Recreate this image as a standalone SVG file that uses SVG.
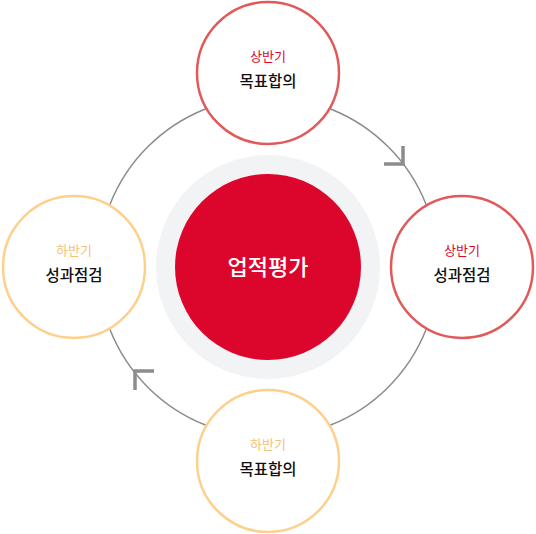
<svg xmlns="http://www.w3.org/2000/svg" width="536" height="534" viewBox="0 0 536 534">
<style>
.ring{fill:none;stroke:#8c8c8c;stroke-width:1.5}
.arrow{fill:none;stroke:#8c8c8c;stroke-width:3.5}
.node{fill:#fff;stroke-width:2.5}
.red{stroke:#e05a5a}
.yel{stroke:#fdd08c}
.sub{font-family:"Noto Sans CJK KR","Noto Sans",sans-serif;font-size:13px;text-anchor:middle}
.main{font-family:"Noto Sans CJK KR","Noto Sans",sans-serif;font-size:15.5px;font-weight:500;text-anchor:middle;fill:#111}
</style>
<g id="connectors">
<circle class="ring" cx="268" cy="267" r="170"/>
<path class="arrow" d="M403 146 V164 H384"/>
<path class="arrow" d="M135 390 V371 H154"/>
</g>
<g id="center">
<circle cx="268" cy="267" r="112" fill="#f2f3f5"/>
<circle cx="268" cy="267" r="93" fill="#dc052c"/>
<text x="268" y="275" font-family="Noto Sans CJK KR, Noto Sans, sans-serif" font-size="22" font-weight="500" fill="#fff" text-anchor="middle">업적평가</text>
</g>
<g id="node-top">
<circle class="node red" cx="268" cy="73" r="71"/>
<text class="sub" x="268" y="61" fill="#dc052c">상반기</text>
<text class="main" x="268" y="87">목표합의</text>
</g>
<g id="node-right">
<circle class="node red" cx="462" cy="267" r="71"/>
<text class="sub" x="462" y="255" fill="#dc052c">상반기</text>
<text class="main" x="462" y="281">성과점검</text>
</g>
<g id="node-bottom">
<circle class="node yel" cx="268" cy="461" r="71"/>
<text class="sub" x="268" y="449" fill="#f9bf73">하반기</text>
<text class="main" x="268" y="475">목표합의</text>
</g>
<g id="node-left">
<circle class="node yel" cx="74" cy="267" r="71"/>
<text class="sub" x="74" y="255" fill="#f9bf73">하반기</text>
<text class="main" x="74" y="281">성과점검</text>
</g>
</svg>
